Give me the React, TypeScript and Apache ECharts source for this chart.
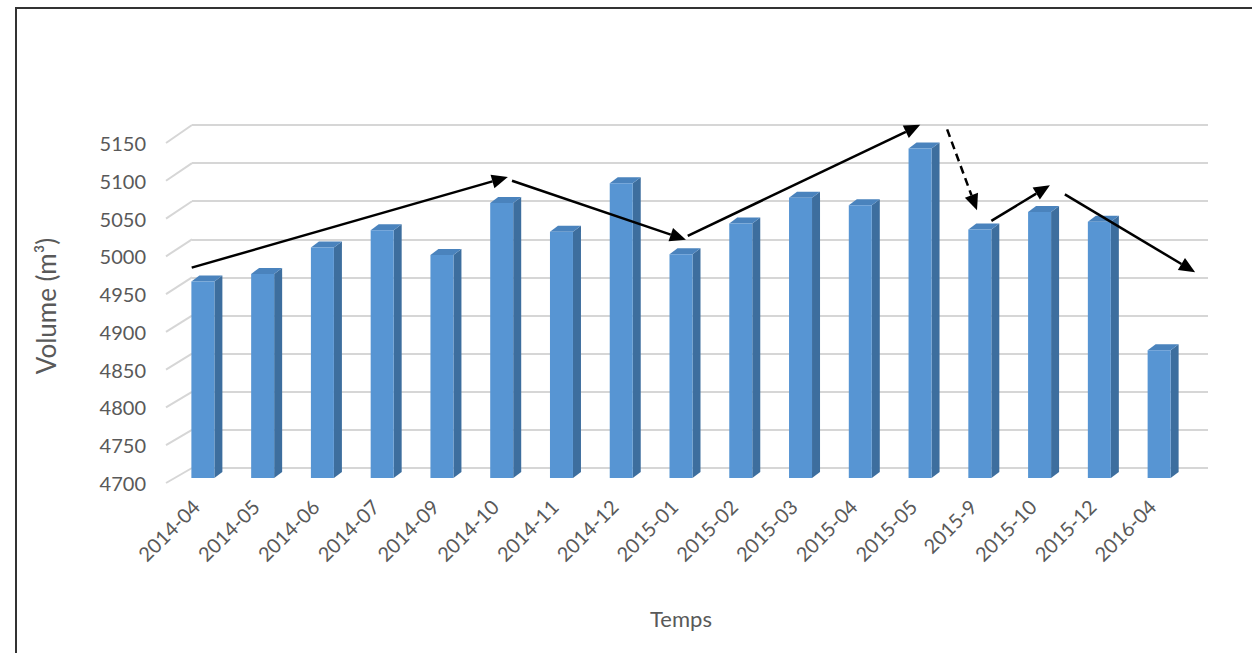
import React, { useEffect, useRef } from "react";
import * as echarts from "echarts";

const categories = [
  "2014-04", "2014-05", "2014-06", "2014-07", "2014-09", "2014-10", "2014-11", "2014-12",
  "2015-01", "2015-02", "2015-03", "2015-04", "2015-05", "2015-9", "2015-10", "2015-12", "2016-04",
];
const volumes = [4960, 4970, 5005, 5028, 4995, 5064, 5026, 5090, 4996, 5037, 5071, 5061, 5136, 5029, 5052, 5039, 4869];
const yMin = 4700;
const yMax = 5150;
const yStep = 50;
const yTicks: number[] = [];
for (let v = yMin; v <= yMax; v += yStep) yTicks.push(v);

// trend arrows in data space: [catIndexStart, valueStart, catIndexEnd, valueEnd, dashed]
const arrows: [number, number, number, number, boolean][] = [
  [-0.07, 4985, 5.22, 5105, false],
  [5.29, 5100, 8.2, 5022, false],
  [8.23, 5027, 12.12, 5174, false],
  [12.57, 5168, 13.07, 5061, true],
  [13.31, 5047, 14.29, 5094, false],
  [14.54, 5082, 16.72, 4979, false],
];

const FONT = "Lato, 'Open Sans', sans-serif";
const TXT = "#595959";
const GRID = "#d6d6d6";

export default function App() {
  const ref = useRef<HTMLDivElement>(null);
  useEffect(() => {
    document.body.style.margin = "0";
    const chart = echarts.init(ref.current!, null, { renderer: "svg" });
    const FW = 23; // front face width
    const SX = 7, SY = -5; // bar plane shift
    const DX = 8, DY = -6; // bar depth
    const option: any = {
      animation: false,
      grid: [
        { left: 166, top: 143, width: 1016, height: 340 },
        { left: 192, top: 125, width: 1016, height: 343 },
      ],
      xAxis: [
        {
          type: "category", gridIndex: 0, data: categories,
          axisLine: { show: false }, axisTick: { show: false },
          axisLabel: { rotate: 45, margin: 20, color: TXT, fontFamily: FONT, fontSize: 20, interval: 0 },
        },
        { type: "category", gridIndex: 1, data: categories, show: false },
        { type: "value", gridIndex: 0, min: -0.5, max: 16.5, show: false },
        { type: "value", gridIndex: 1, min: -0.5, max: 16.5, show: false },
      ],
      yAxis: [
        {
          type: "value", gridIndex: 0, min: yMin, max: yMax, interval: yStep,
          axisLine: { show: false }, axisTick: { show: false }, splitLine: { show: false },
          axisLabel: { margin: 20, color: TXT, fontFamily: FONT, fontSize: 20, formatter: (v: number) => String(v) },
        },
        {
          type: "value", gridIndex: 1, min: yMin, max: yMax, interval: yStep,
          axisLine: { show: false }, axisTick: { show: false }, axisLabel: { show: false },
          splitLine: { show: true, lineStyle: { color: GRID, width: 2 } },
        },
      ],
      series: [
        {
          type: "custom",
          xAxisIndex: 0, yAxisIndex: 0,
          data: volumes.map((v, i) => [i, v]),
          z: 5,
          renderItem: (params: any, api: any) => {
            const i = api.value(0);
            const v = api.value(1);
            const base = api.coord([i, yMin]);
            const top = api.coord([i, v]);
            const xl = base[0] + SX - FW / 2;
            const xr = xl + FW;
            const yt = top[1] + SY;
            const yb = base[1] + SY;
            return {
              type: "group",
              children: [
                { type: "polygon", shape: { points: [[xr, yt], [xr + DX, yt + DY], [xr + DX, yb + DY], [xr, yb]] }, style: { fill: "#3d6e9e" } },
                { type: "polygon", shape: { points: [[xl, yt], [xl + DX, yt + DY], [xr + DX, yt + DY], [xr, yt]] }, style: { fill: "#4a83bd" } },
                { type: "rect", shape: { x: xl, y: yt, width: FW, height: yb - yt }, style: { fill: "#5795d3" } },
              ],
            };
          },
        },
      ],
    };
    chart.setOption(option);

    const g: any[] = [];
    g.push({ type: "rect", shape: { x: 16, y: 8, width: 1280, height: 700 }, style: { fill: "none", stroke: "#333", lineWidth: 2 }, z: 0 });
    // side wall diagonals
    yTicks.forEach((v) => {
      const f = chart.convertToPixel({ xAxisIndex: 2, yAxisIndex: 0 } as any, [-0.5, v]) as number[];
      const b = chart.convertToPixel({ xAxisIndex: 3, yAxisIndex: 1 } as any, [-0.5, v]) as number[];
      g.push({ type: "line", shape: { x1: f[0], y1: f[1], x2: b[0], y2: b[1] }, style: { stroke: GRID, lineWidth: 2 }, z: 1 });
    });
    // arrows
    arrows.forEach(([a, av, b, bv, dashed]) => {
      const p1 = chart.convertToPixel({ xAxisIndex: 2, yAxisIndex: 0 } as any, [a, av]) as number[];
      const p2 = chart.convertToPixel({ xAxisIndex: 2, yAxisIndex: 0 } as any, [b, bv]) as number[];
      const dx = p2[0] - p1[0], dy = p2[1] - p1[1];
      const len = Math.sqrt(dx * dx + dy * dy);
      const ux = dx / len, uy = dy / len;
      const L = 16, W = 7;
      const bx = p2[0] - ux * L, by = p2[1] - uy * L;
      g.push({
        type: "line", z: 20,
        shape: { x1: p1[0], y1: p1[1], x2: bx, y2: by },
        style: { stroke: "#000", lineWidth: 2.5, lineDash: dashed ? [8, 5] : null },
      });
      g.push({
        type: "polygon", z: 20,
        shape: { points: [[p2[0], p2[1]], [bx - uy * W, by + ux * W], [bx + uy * W, by - ux * W]] },
        style: { fill: "#000" },
      });
    });
    g.push({ type: "text", x: 46, y: 306, rotation: Math.PI / 2, z: 10, style: { text: "Volume (m³)", fill: TXT, font: `26px ${FONT}`, textAlign: "center", textVerticalAlign: "middle" } });
    g.push({ type: "text", x: 681, y: 618, z: 10, style: { text: "Temps", fill: TXT, font: `22px ${FONT}`, textAlign: "center", textVerticalAlign: "middle" } });
    chart.setOption({ graphic: g });

    return () => chart.dispose();
  }, []);
  return <div ref={ref} style={{ width: 1252, height: 653 }} />;
}
